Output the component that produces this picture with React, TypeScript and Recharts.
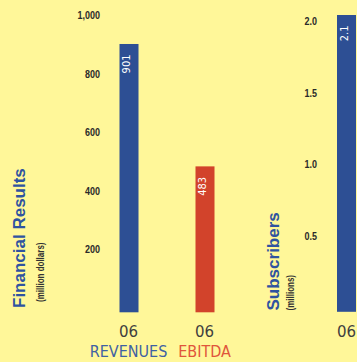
import React from "react";
import { BarChart, Bar, XAxis, YAxis, Cell, LabelList } from "recharts";

// ---- data ----
const year = "06";
const financialCategories = ["REVENUES", "EBITDA"];
const financialValues = [901, 483];
const financialColors = ["#2d4f94", "#d2432b"];
const financialTextColors = ["#3f61a3", "#e0553b"];
const financialTicks = [200, 400, 600, 800, 1000];

const subscriberCategories = ["SUBSCRIBERS"];
const subscriberValues = [2.04];
const subscriberValueLabels = ["2.1"];
const subscriberColors = ["#2d4f94"];
const subscriberTicks = [0.5, 1.0, 1.5, 2.0];

// ---- styles ----
const BG = "#fff799";
const TITLE_BLUE = "#2f53a0";
const TICK_COLOR = "#2a2a2a";
const SANS = "'Liberation Sans', Arial, sans-serif";
const SQUARE = "'DejaVu Sans Condensed', 'DejaVu Sans', sans-serif";
const NARROW_SCALE = 0.78;
const BAR_EXT = 4.5;

const financialData = financialCategories.map((c, i) => ({
  category: c,
  value: financialValues[i],
  label: String(financialValues[i]),
  color: financialColors[i],
  textColor: financialTextColors[i],
}));

const subscriberData = subscriberCategories.map((c, i) => ({
  category: c,
  value: subscriberValues[i],
  label: subscriberValueLabels[i],
  color: subscriberColors[i],
  textColor: "",
}));

const ExtendedBar = (props: any) => {
  const { x, y, width, height, payload, fill } = props;
  if (height == null) return null;
  return (
    <rect
      x={x}
      y={y}
      width={width}
      height={height + BAR_EXT}
      fill={(payload && payload.color) || fill}
    />
  );
};

const BarValueLabel = (props: any) => {
  const { x, y, width, value } = props;
  const cx = x + width / 2 + 1;
  const ly = y + 10.5;
  return (
    <text
      x={cx}
      y={ly}
      transform={`rotate(-90, ${cx}, ${ly})`}
      textAnchor="end"
      fill="#ffffff"
      fontSize={11}
      fontFamily={SQUARE}
    >
      {value}
    </text>
  );
};

const makeYTick = (fmt: (v: number) => string) => (props: any) => {
  const { x, y, payload } = props;
  return (
    <text
      transform={`translate(${x}, ${y}) scale(${NARROW_SCALE}, 1)`}
      x={0}
      y={0}
      dy="0.36em"
      textAnchor="end"
      fill={TICK_COLOR}
      fontSize={11.5}
      fontWeight={700}
      fontFamily={SANS}
    >
      {fmt(payload.value)}
    </text>
  );
};

const makeXTick = (data: any[], showName: boolean) => (props: any) => {
  const { x, y, payload, index } = props;
  const row = data[index] || data.find((d) => d.category === payload.value);
  return (
    <g>
      <text
        x={x}
        y={y + 29.2}
        textAnchor="middle"
        fill="#3f3f3f"
        fontSize={15}
        fontFamily="'DejaVu Sans', sans-serif"
      >
        {year}
      </text>
      {showName && (
        <text
          x={x}
          y={y + 49}
          textAnchor="middle"
          fill={row ? row.textColor : "#3f61a3"}
          fontSize={16}
          fontFamily={SQUARE}
        >
          {payload.value}
        </text>
      )}
    </g>
  );
};

const VerticalNarrow = ({ x, y, children }: any) => (
  <text
    transform={`translate(${x}, ${y}) rotate(-90) scale(0.8, 1)`}
    x={0}
    y={0}
    fill="#333333"
    fontSize={10}
    fontWeight={700}
    fontFamily={SANS}
  >
    {children}
  </text>
);

export default function App() {
  return (
    <div
      style={{
        position: "absolute",
        left: 0,
        top: 0,
        width: 357,
        height: 362,
        background: BG,
        overflow: "hidden",
      }}
    >
      <div style={{ position: "absolute", left: 0, top: 0 }}>
        <BarChart
          width={250}
          height={362}
          data={financialData}
          margin={{ top: 15, right: 7.5, bottom: 0, left: 0 }}
        >
          <XAxis
            dataKey="category"
            height={54.2}
            axisLine={false}
            tickLine={false}
            tickSize={0}
            tickMargin={0}
            interval={0}
            tick={makeXTick(financialData, true)}
          />
          <YAxis
            width={90.5}
            domain={[0, 1000]}
            ticks={financialTicks}
            axisLine={false}
            tickLine={false}
            tickSize={0}
            tickMargin={-9.5}
            tick={makeYTick((v) => v.toLocaleString("en-US"))}
          />
          <Bar
            dataKey="value"
            barSize={19}
            isAnimationActive={false}
            shape={ExtendedBar}
          >
            {financialData.map((d, i) => (
              <Cell key={i} fill={d.color} />
            ))}
            <LabelList dataKey="label" content={BarValueLabel} />
          </Bar>
        </BarChart>
      </div>

      <div style={{ position: "absolute", left: 260, top: 0 }}>
        <BarChart
          width={97}
          height={362}
          data={subscriberData}
          margin={{ top: 15, right: 0, bottom: 0, left: 0 }}
        >
          <XAxis
            dataKey="category"
            height={54.7}
            axisLine={false}
            tickLine={false}
            tickSize={0}
            tickMargin={0}
            interval={0}
            tick={makeXTick(subscriberData, false)}
          />
          <YAxis
            width={76}
            domain={[0, 2]}
            ticks={subscriberTicks}
            axisLine={false}
            tickLine={false}
            tickSize={0}
            tickMargin={19}
            tick={makeYTick((v) => v.toFixed(1))}
          />
          <Bar
            dataKey="value"
            barSize={19}
            isAnimationActive={false}
            shape={ExtendedBar}
          >
            {subscriberData.map((d, i) => (
              <Cell key={i} fill={d.color} />
            ))}
            <LabelList dataKey="label" content={BarValueLabel} />
          </Bar>
        </BarChart>
      </div>

      <svg
        width={357}
        height={362}
        style={{ position: "absolute", left: 0, top: 0, pointerEvents: "none" }}
      >
        <text
          x={25}
          y={308}
          transform="rotate(-90, 25, 308)"
          fill={TITLE_BLUE}
          fontSize={17}
          fontWeight={700}
          fontFamily={SANS}
        >
          Financial Results
        </text>
        <VerticalNarrow x={43.5} y={302}>
          (million dollars)
        </VerticalNarrow>
        <text
          x={279.3}
          y={310.5}
          transform="rotate(-90, 279.3, 310.5)"
          fill={TITLE_BLUE}
          fontSize={17}
          fontWeight={700}
          fontFamily={SANS}
        >
          Subscribers
        </text>
        <VerticalNarrow x={294} y={310.5}>
          (millions)
        </VerticalNarrow>
      </svg>
    </div>
  );
}
